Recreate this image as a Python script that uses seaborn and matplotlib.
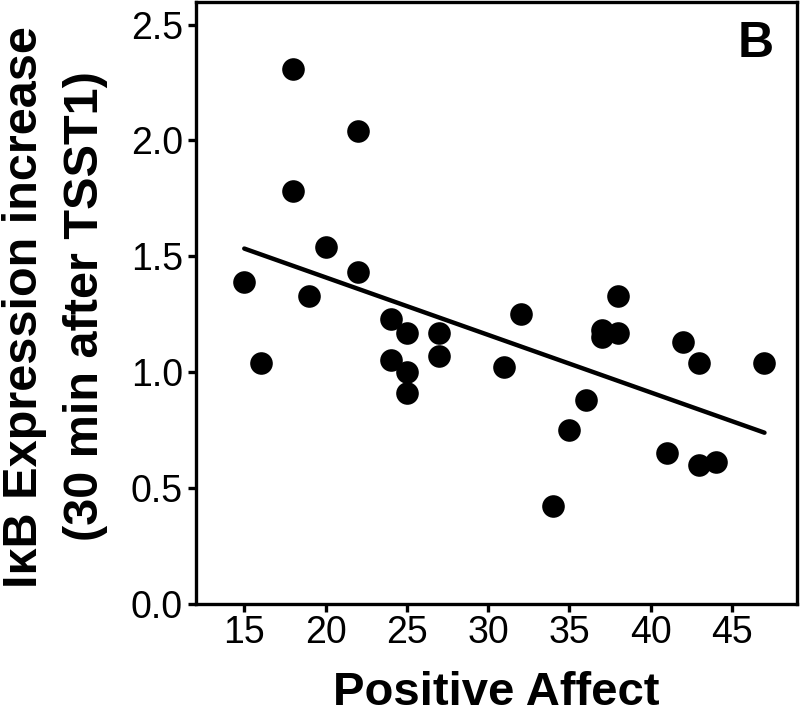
import matplotlib
matplotlib.use("Agg")
import matplotlib.pyplot as plt
import seaborn as sns
import pandas as pd

# ---- data ----
positive_affect = [15, 16, 18, 18, 19, 20, 22, 22, 24, 24, 25, 25, 25, 27, 27,
                   31, 32, 34, 35, 36, 37, 37, 38, 38, 41, 42, 43, 43, 44, 47]
ikb_increase = [1.39, 1.04, 2.31, 1.78, 1.33, 1.54, 2.04, 1.43, 1.23, 1.05,
                1.17, 1.00, 0.91, 1.17, 1.07, 1.02, 1.25, 0.42, 0.75, 0.88,
                1.18, 1.15, 1.33, 1.17, 0.65, 1.13, 1.04, 0.60, 0.61, 1.04]
x_ticks = [15, 20, 25, 30, 35, 40, 45]
y_ticks = [0.0, 0.5, 1.0, 1.5, 2.0, 2.5]
y_tick_labels = ["0.0", "0.5", "1.0", "1.5", "2.0", "2.5"]
x_label = "Positive Affect"
y_label_line1 = "IκB Expression increase"
y_label_line2 = "(30 min after TSST1)"
panel_label = "B"

sns.set_theme(style="ticks")
plt.rcParams["font.family"] = ["Liberation Sans", "DejaVu Sans"]

W, H = 800, 716
fig = plt.figure(figsize=(W / 100, H / 100), dpi=100)
L, R, T, B = 195.5, 797, 1.5, 603.5
ax = fig.add_axes([L / W, 1 - B / H, (R - L) / W, (B - T) / H])

df = pd.DataFrame({"pa": positive_affect, "ikb": ikb_increase})
sns.regplot(data=df, x="pa", y="ikb", ax=ax, ci=None, color="black",
            scatter_kws=dict(s=265, linewidths=0, alpha=1),
            line_kws=dict(linewidth=3.2, solid_capstyle="round"))

ax.set_xlim(12, 49)
ax.set_ylim(0, 2.6)
ax.set_xticks(x_ticks)
ax.set_xticklabels([str(v) for v in x_ticks])
ax.set_yticks(y_ticks)
ax.set_yticklabels(y_tick_labels)
ax.set_xlabel("")
ax.set_ylabel("")

for sp in ax.spines.values():
    sp.set_linewidth(2.4)
    sp.set_color("black")
    sp.set_visible(True)
ax.tick_params(axis="both", direction="out", length=6, width=2.4,
               colors="black", labelsize=27)
ax.tick_params(axis="x", pad=2)
ax.tick_params(axis="y", pad=3)

ax.text((756 - L) / (R - L), 1 - (57 - T) / (B - T), panel_label,
        transform=ax.transAxes, ha="center", va="baseline",
        fontsize=36, fontweight="bold", color="black")

fig.text((L + R) / 2 / W, 1 / H, x_label, ha="center", va="bottom",
         fontsize=34, fontweight="bold", color="black")

fig.text(37 / W, 1 - 307 / H, y_label_line1, rotation=90, rotation_mode="anchor",
         ha="center", va="baseline", fontsize=35, fontweight="bold", color="black")
fig.text(98 / W, 1 - 306 / H, y_label_line2, rotation=90, rotation_mode="anchor",
         ha="center", va="baseline", fontsize=35, fontweight="bold", color="black")

fig.savefig("out.png", dpi=100, facecolor="white")
